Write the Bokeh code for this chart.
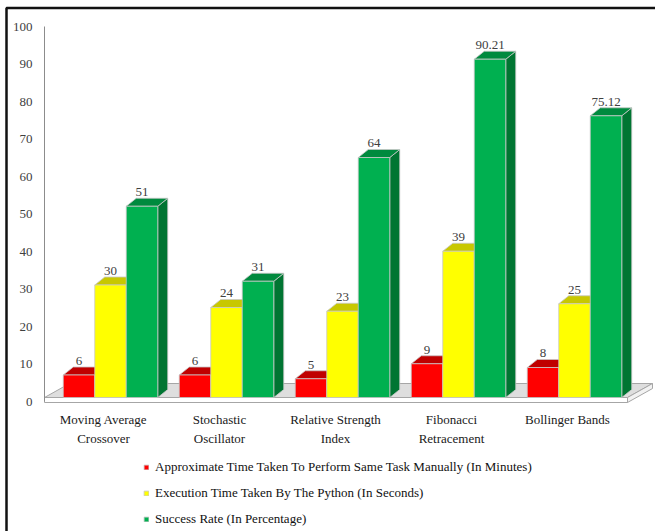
from bokeh.plotting import figure
from bokeh.models import LinearAxis, FixedTicker, Legend, LegendItem
from bokeh.core.properties import value
from bokeh.embed import file_html
from bokeh.resources import INLINE

# ---- data -------------------------------------------------------------
categories = [
    "Moving Average\nCrossover",
    "Stochastic\nOscillator",
    "Relative Strength\nIndex",
    "Fibonacci\nRetracement",
    "Bollinger Bands",
]
manual_minutes = [6, 6, 5, 9, 8]
python_seconds = [30, 24, 23, 39, 25]
success_rate = [51, 31, 64, 90.21, 75.12]
series_names = [
    "Approximate Time Taken To Perform Same Task Manually (In Minutes)",
    "Execution Time Taken By The Python (In Seconds)",
    "Success Rate (In Percentage)",
]
value_ticks = list(range(0, 101, 10))

# ---- layout (pixels) --------------------------------------------------
W, H = 655, 531
GROUP0_PX, GROUP_STEP_PX = 110, 116      # first group centre / group pitch
ZERO_PX, UNIT_PX = 401, 3.75             # y pixel of value 0 / pixels per unit


def px_x(px):
    return (px - GROUP0_PX) / GROUP_STEP_PX


def px_y(py):
    return (ZERO_PX - py) / UNIT_PX


BAR_W = 31.5 / GROUP_STEP_PX
DX = 10 / GROUP_STEP_PX                  # 3-D depth, horizontal
DY = 8 / UNIT_PX                         # 3-D depth, vertical
BASE = px_y(397)                         # bars stand on the floor top
LABEL_SHIFT = -7 / GROUP_STEP_PX         # category labels sit on the front edge

SERIF = value("Liberation Serif")
LABEL_COLOR = "#404040"
EDGE = "#c8c8c8"

front_colors = ["#ff0000", "#ffff00", "#00b050"]
top_colors = ["#c00000", "#c8c800", "#008a3e"]
side_colors = ["#9a0000", "#a8a800", "#007532"]

p = figure(
    width=W, height=H,
    x_range=(px_x(0), px_x(W)), y_range=(px_y(H), px_y(0)),
    x_axis_type=None, y_axis_type=None,
    output_backend="svg", toolbar_location=None,
    min_border=0, outline_line_color=None,
)
p.grid.visible = False

# ---- outer frame ------------------------------------------------------
p.line([px_x(6), px_x(6), px_x(W + 5)], [px_y(H + 5), px_y(7.5), px_y(7.5)],
       line_color="#111111", line_width=2.5)

# ---- floor slab -------------------------------------------------------
fl, fr = px_x(44), px_x(627)
depth_x = 25 / GROUP_STEP_PX
depth_y = 14 / UNIT_PX
f_low, f_top = px_y(402), BASE
p.patch([fl, fr, fr + depth_x, fl + depth_x],
        [f_top, f_top, f_top + depth_y, f_top + depth_y],
        fill_color="#dedede", line_color="#a6a6a6", line_width=1)
p.patch([fl, fr, fr, fl], [f_low, f_low, f_top, f_top],
        fill_color="#ffffff", line_color="#a6a6a6", line_width=1)
p.patch([fr, fr + depth_x, fr + depth_x, fr],
        [f_low, f_low + depth_y, f_top + depth_y, f_top],
        fill_color="#f2f2f2", line_color="#a6a6a6", line_width=1)

# ---- 3-D bars ---------------------------------------------------------
series = [manual_minutes, python_seconds, success_rate]
fronts = []
for j, vals in enumerate(series):
    lefts = [i + (j - 1) * BAR_W - BAR_W / 2 for i in range(len(vals))]
    rights = [l + BAR_W for l in lefts]
    tops = [v + BASE for v in vals]
    side_xs = [[r, r + DX, r + DX, r] for r in rights]
    side_ys = [[BASE, BASE + DY, t + DY, t] for t in tops]
    top_xs = [[l, l + DX, r + DX, r] for l, r in zip(lefts, rights)]
    top_ys = [[t, t + DY, t + DY, t] for t in tops]
    p.patches(side_xs, side_ys, fill_color=side_colors[j], line_color=EDGE, line_width=0.8)
    p.patches(top_xs, top_ys, fill_color=top_colors[j], line_color=EDGE, line_width=0.8)
    fr_r = p.quad(left=lefts, right=rights, bottom=BASE, top=tops,
                  fill_color=front_colors[j], line_color=EDGE, line_width=0.8)
    fronts.append(fr_r)
    p.text(x=[(l + r) / 2 for l, r in zip(lefts, rights)],
           y=[t + DY + 0.6 for t in tops],
           text=[f"{v:g}" for v in vals],
           text_align="center", text_baseline="bottom",
           text_font=SERIF, text_font_size="13px", text_color=LABEL_COLOR)

# ---- category labels --------------------------------------------------
p.text(x=[i + LABEL_SHIFT for i in range(len(categories))],
       y=[px_y(411)] * len(categories),
       text=categories, text_align="center", text_baseline="top",
       text_font=SERIF, text_font_size="13px", text_color="#1a1a1a",
       text_line_height=1.3)

# ---- value axis -------------------------------------------------------
yaxis = LinearAxis(
    fixed_location=px_x(44), bounds=(0, 100),
    ticker=FixedTicker(ticks=value_ticks),
    axis_line_color="#8c8c8c", axis_line_width=1,
    major_tick_line_color=None, minor_tick_line_color=None,
    major_tick_out=0, major_tick_in=0, major_label_standoff=12,
    major_label_text_font="Liberation Serif",
    major_label_text_font_size="13px",
    major_label_text_color=LABEL_COLOR,
)
p.add_layout(yaxis, "left")

# ---- legend -----------------------------------------------------------
legend = Legend(
    items=[LegendItem(label=n, renderers=[r]) for n, r in zip(series_names, fronts)],
    location=(143, 2), orientation="vertical",
    glyph_width=6, glyph_height=6, label_standoff=6,
    label_height=21, spacing=5, padding=0, margin=0,
    label_text_font="Liberation Serif", label_text_font_size="13px",
    label_text_color="#111111",
    border_line_color=None, background_fill_alpha=0,
)
p.add_layout(legend, "center")

open("out.html", "w").write(file_html(p, INLINE))
